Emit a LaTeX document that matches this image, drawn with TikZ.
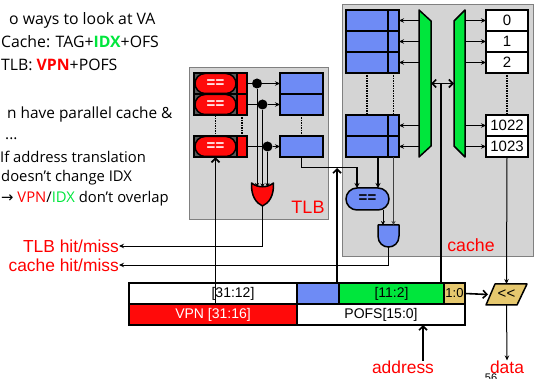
\documentclass[tikz,border=0pt]{standalone}
\usepackage{fontspec}
\setmainfont{Liberation Sans}
\newfontfamily\talkfont{Open Sans}
\newfontfamily\arrowfont{DejaVu Sans}
\usetikzlibrary{arrows.meta,calc,chains,shapes.misc}
\definecolor{PanelGray}{HTML}{D4D4D4}
\definecolor{RamBlue}{HTML}{6E8BF5}
\definecolor{MuxGreen}{HTML}{00E63C}
\definecolor{CamRed}{HTML}{FF0A0A}
\definecolor{ShiftTan}{HTML}{E6C86E}
\tikzset{
  FieldText/.style={font=\fontsize{14}{15}\selectfont, inner sep=0pt},
  TalkText/.style={anchor=base west, inner sep=0pt, font=\talkfont\fontsize{#1}{16}\selectfont},
}
\begin{document}
\begin{tikzpicture}[
       x = 1pt, y = -1pt,
     node distance = 0pt,
MyCell/.style={draw, line width=1.5pt, inner sep=0pt, outer sep=0pt, on chain},
MyPanel/.style={draw=black!50, line width=1pt, fill=PanelGray, inner sep=0pt, outer sep=0pt},
MyShape/.style={draw, line width=1.5pt, line join=round},
MyGhost/.style={inner sep=0pt, outer sep=0pt},
MyLabel/.style={text=red, inner sep=0pt, font=\fontsize{17.4}{19}\selectfont},
MyDots/.style={line width=1.5pt, densely dotted},
MyDot/.style={circle, fill=black, inner sep=0pt, minimum size=10pt},
MyPill/.style={draw, line width=1.5pt, rounded rectangle, fill=CamRed, text=white, inner sep=0pt,
               minimum width=41pt, minimum height=20pt, font=\bfseries\fontsize{15}{15}\selectfont},
Feed/.style={line width=.8pt, -{Stealth[length=5pt, width=4.5pt]}},
Thin/.style={line width=.9pt, -{Stealth[length=4pt, width=4pt]}},
Bus/.style={line width=1.6pt, -{Straight Barb[length=4pt, width=8pt]}},
  ]
\path[use as bounding box, clip] (0,0) rectangle (541,379);

% slide text
\node [TalkText=15.8] (t1) at (9,25) {o ways to look at VA};
\node [TalkText=15.8] (t2) at (1,48) {Cache: TAG+\textcolor{MuxGreen}{\textbf{IDX}}+OFS};
\node [TalkText=15.8] (t3) at (1,71) {TLB: \textcolor{red}{\textbf{VPN}}+POFS};
\node [TalkText=15.4] (t4) at (7,119) {n have parallel cache \&};
\node [TalkText=15.4] (t5) at (5,140) {...};
\node [TalkText=14.8] (t6) at (0,163) {If address translation};
\node [TalkText=14.8] (t7) at (1,182) {doesn’t change IDX};
\node [TalkText=14.8] (t8) at (1,203) {{\arrowfont→} \textcolor{red}{VPN}/\textcolor{MuxGreen}{IDX} don’t overlap};

% panels
\node [MyPanel, minimum width=139pt, minimum height=152pt] (tlbpanel) at (258.5,144) {};
\node [MyPanel, minimum width=191pt, minimum height=252pt] (cachepanel) at (437.5,131) {};
\node [MyLabel, font=\fontsize{18}{20}\selectfont] (tlbname) at (308,207) {TLB};
\node [MyLabel, font=\fontsize{17.7}{20}\selectfont] (cachename) at (471,245) {cache};

% tlb, tag side
\begin{scope}[start chain=going below]
\node [MyCell, fill=black!65, minimum width=43pt, minimum height=21pt] (cam0) at (215.5,83.5) {};
\node [MyCell, fill=black!65, minimum width=43pt, minimum height=21pt] (cam1) {};
\end{scope}
\begin{scope}[start chain=going below]
\node [MyCell, fill=black!65, minimum width=43pt, minimum height=21pt] (cam2) at (215.5,146.5) {};
\end{scope}
\begin{scope}[start chain=going below]
\node [MyCell, fill=CamRed, minimum width=10pt, minimum height=21pt] (flag0) at (242,83.5) {};
\node [MyCell, fill=CamRed, minimum width=10pt, minimum height=21pt] (flag1) {};
\end{scope}
\begin{scope}[start chain=going below]
\node [MyCell, fill=CamRed, minimum width=10pt, minimum height=21pt] (flag2) at (242,146.5) {};
\end{scope}
\node [MyPill] (pill0) at (cam0) {==};
\node [MyPill] (pill1) at (cam1) {==};
\node [MyPill] (pill2) at (cam2) {==};

% tlb, data side
\begin{scope}[start chain=going below]
\node [MyCell, fill=RamBlue, minimum width=43pt, minimum height=21pt] (ppn0) at (301.5,83.5) {};
\node [MyCell, fill=RamBlue, minimum width=43pt, minimum height=21pt] (ppn1) {};
\end{scope}
\begin{scope}[start chain=going below]
\node [MyCell, fill=RamBlue, minimum width=43pt, minimum height=21pt] (ppn2) at (301.5,146.5) {};
\end{scope}

\node [MyDot] (hit0) at (257,83.5) {};
\node [MyDot] (hit1) at (262.5,104.5) {};
\node [MyDot] (hit2) at (267.5,146.5) {};

\draw[line width=.8pt] (flag0) -- (hit0);
\draw[line width=.8pt] (flag1) -- (hit1);
\draw[line width=.8pt] (flag2) -- (hit2);
\draw[Feed] (hit0) -- (ppn0);
\draw[Feed] (hit1) -- (ppn1);
\draw[Feed] (hit2) -- (ppn2);

\draw[MyDots] (pill1.south) -- (pill2.north);
\draw[MyDots] (flag1.south) -- (flag2.north);
\draw[MyDots] (ppn1.south) -- (ppn2.north);

% or gate
\node [MyGhost, minimum width=22pt, minimum height=23pt] (orgate) at (262.5,194.5) {};
\draw[MyShape, fill=CamRed] (orgate.north west) .. controls (258,188) and (267,188) .. (orgate.north east)
  .. controls (274,196) and (269,203) .. (orgate.south)
  .. controls (256,203) and (251,196) .. (orgate.north west) -- cycle;
\draw[Thin] (hit0) -- ($(hit0 |- orgate.north)+(0,4)$);
\draw[Thin] (hit1) -- ($(hit1 |- orgate.north)+(0,4.5)$);
\draw[Thin] (hit2) -- ($(hit2 |- orgate.north)+(0,4)$);

% cache tags
\begin{scope}[start chain=going below]
\node [MyCell, fill=RamBlue, minimum width=42pt, minimum height=21pt] (tag0) at (367,20.5) {};
\node [MyCell, fill=RamBlue, minimum width=42pt, minimum height=21pt] (tag1) {};
\node [MyCell, fill=RamBlue, minimum width=42pt, minimum height=21pt] (tag2) {};
\end{scope}
\begin{scope}[start chain=going below]
\node [MyCell, fill=RamBlue, minimum width=42pt, minimum height=21pt] (tag3) at (367,125.5) {};
\node [MyCell, fill=RamBlue, minimum width=42pt, minimum height=21pt] (tag4) {};
\end{scope}
\begin{scope}[start chain=going below]
\node [MyCell, fill=RamBlue, minimum width=11pt, minimum height=21pt] (val0) at (393.5,20.5) {};
\node [MyCell, fill=RamBlue, minimum width=11pt, minimum height=21pt] (val1) {};
\node [MyCell, fill=RamBlue, minimum width=11pt, minimum height=21pt] (val2) {};
\end{scope}
\begin{scope}[start chain=going below]
\node [MyCell, fill=RamBlue, minimum width=11pt, minimum height=21pt] (val3) at (393.5,125.5) {};
\node [MyCell, fill=RamBlue, minimum width=11pt, minimum height=21pt] (val4) {};
\end{scope}

% cache data
\begin{scope}[start chain=going below, every node/.append style={font=\fontsize{15}{15}\selectfont}]
\node [MyCell, fill=white, minimum width=42pt, minimum height=21pt] (data0) at (507,20.5) {0};
\node [MyCell, fill=white, minimum width=42pt, minimum height=21pt] (data1) {1};
\node [MyCell, fill=white, minimum width=42pt, minimum height=21pt] (data2) {2};
\end{scope}
\begin{scope}[start chain=going below, every node/.append style={font=\fontsize{15}{15}\selectfont}]
\node [MyCell, fill=white, minimum width=42pt, minimum height=21pt] (data3) at (507,125.5) {1022};
\node [MyCell, fill=white, minimum width=42pt, minimum height=21pt] (data4) {1023};
\end{scope}

\draw[MyDots] (tag2.south) -- (tag3.north);
\draw[MyDots] (val2.south) -- (val3.north);
\draw[MyDots] (data2.south) -- (data3.north);

% muxes
\node [MyGhost, minimum width=12pt, minimum height=147pt] (muxleft) at (425,83.5) {};
\node [MyGhost, minimum width=11pt, minimum height=147pt] (muxright) at (459.5,83.5) {};
\draw[MyShape, fill=MuxGreen] (muxleft.north west) -- (431,21) -- (431,146) -- (muxleft.south west) -- cycle;
\draw[MyShape, fill=MuxGreen] (muxright.north east) -- (454,21) -- (454,146) -- (muxright.south east) -- cycle;

\draw[Feed] (muxleft.west |- val0) -- (val0);
\draw[Feed] (muxleft.west |- val1) -- (val1);
\draw[Feed] (muxleft.west |- val2) -- (val2);
\draw[Feed] (muxleft.west |- val3) -- (val3);
\draw[Feed] (muxleft.west |- val4) -- (val4);
\draw[Feed] (muxright.east |- data0) -- (data0);
\draw[Feed] (muxright.east |- data1) -- (data1);
\draw[Feed] (muxright.east |- data2) -- (data2);
\draw[Feed] (muxright.east |- data3) -- (data3);
\draw[Feed] (muxright.east |- data4) -- (data4);

% compare, and gate
\node [draw, line width=1.5pt, rounded rectangle, fill=RamBlue, inner sep=0pt, outer sep=0pt,
       minimum width=43pt, minimum height=22pt, font=\bfseries\fontsize{15}{15}\selectfont] (compare) at (367.5,199) {==};
\node [MyGhost, minimum width=21pt, minimum height=22pt] (andgate) at (388.5,236) {};
\draw[MyShape, fill=RamBlue] (andgate.north west) -- (andgate.north east) -- (399,236)
  .. controls (399,243) and (394,247) .. (andgate.south)
  .. controls (383,247) and (378,243) .. (378,236) -- cycle;

% address
\begin{scope}[start chain=going right]
\node [MyCell, fill=white, minimum width=168pt, minimum height=21pt] (fieldhi) at (213,293.5) {};
\node [MyCell, fill=RamBlue, minimum width=42pt, minimum height=21pt] (fieldtag) {};
\node [MyCell, fill=MuxGreen, minimum width=105pt, minimum height=21pt, FieldText] (fieldidx) {[11:2]};
\node [MyCell, fill=ShiftTan, minimum width=21pt, minimum height=21pt, FieldText, font=\fontsize{13}{15}\selectfont] (fieldlow) {1:0};
\end{scope}
\begin{scope}[start chain=going right]
\node [MyCell, fill=CamRed, text=white, minimum width=168pt, minimum height=21pt, FieldText] (fieldvpn) at (213,314.5) {VPN [31:16]};
\node [MyCell, fill=white, minimum width=168pt, minimum height=21pt, FieldText] (fieldpofs) {POFS[15:0]};
\end{scope}
\node [FieldText] (hitext) at (233,293.5) {[31:12]};

% shifter
\node [MyGhost, minimum width=37pt, minimum height=21pt] (shifter) at (506.5,294.5) {};
\draw[MyShape, fill=ShiftTan] (495,284) -- (527,284) -- (517,305) -- (486,305) -- cycle;
\node [MyGhost, font=\fontsize{15}{15}\selectfont] (shifttext) at (shifter) {{<}{<}};

% labels
\node [MyLabel, anchor=east] (tlbhit) at (119,246) {TLB hit/miss};
\node [MyLabel, anchor=east] (cachehit) at (119,265) {cache hit/miss};
\node [MyLabel] (addrlabel) at (403,367) {address};
\node [MyLabel] (datalabel) at (507,367) {data};
\node [inner sep=0pt, font=\fontsize{11}{11}\selectfont] (pagenum) at (491,378) {56};

% connectors
\draw[Feed, line width=.9pt] (orgate.south) |- (tlbhit.east);
\draw[Feed, line width=.9pt] (andgate.south) |- (cachehit.east);

\draw[Bus] (pill2.south |- fieldhi.south) -- (pill2.south);

\coordinate (tagtail) at (337,283);
\coordinate (tagturn) at (337,168);
\coordinate (comparein) at (357,167.5);
\coordinate (tagout) at (378,157);
\coordinate (compareout) at (383,210);
\coordinate (addrtail) at (423,361);
\coordinate (muxjoin) at (441,83.5);
\draw[Bus] (tagtail) -- (tagturn);
\draw[line width=1.3pt, -{Stealth[length=5pt, width=5pt]}] (ppn2.south) |- (comparein) -- (comparein |- compare.north);
\draw[line width=1.3pt, -{Stealth[length=5pt, width=5pt]}] (tagout) -- (tagout |- compare.north);
\draw[Thin] (compareout) -- (compareout |- andgate.north);
\draw[Thin, black!75] (val4.south) -- (val4.south |- andgate.north);

\draw[line width=1.6pt, {Straight Barb[length=4pt, width=8pt]}-{Straight Barb[length=4pt, width=8pt]}] (muxleft.east) -- (muxright.west);
\draw[line width=1.6pt] (muxjoin) -- (muxjoin |- fieldidx.north);

\draw[Feed, line width=1pt] (data4.south) -- (shifter.north);
\draw[Bus] (fieldlow.east) -- (shifter.west);
\draw[Feed, line width=1pt] (shifter.south) -- (datalabel.north);
\draw[Bus] (addrtail) -- (addrtail |- fieldpofs.south);
\end{tikzpicture}
\end{document}
